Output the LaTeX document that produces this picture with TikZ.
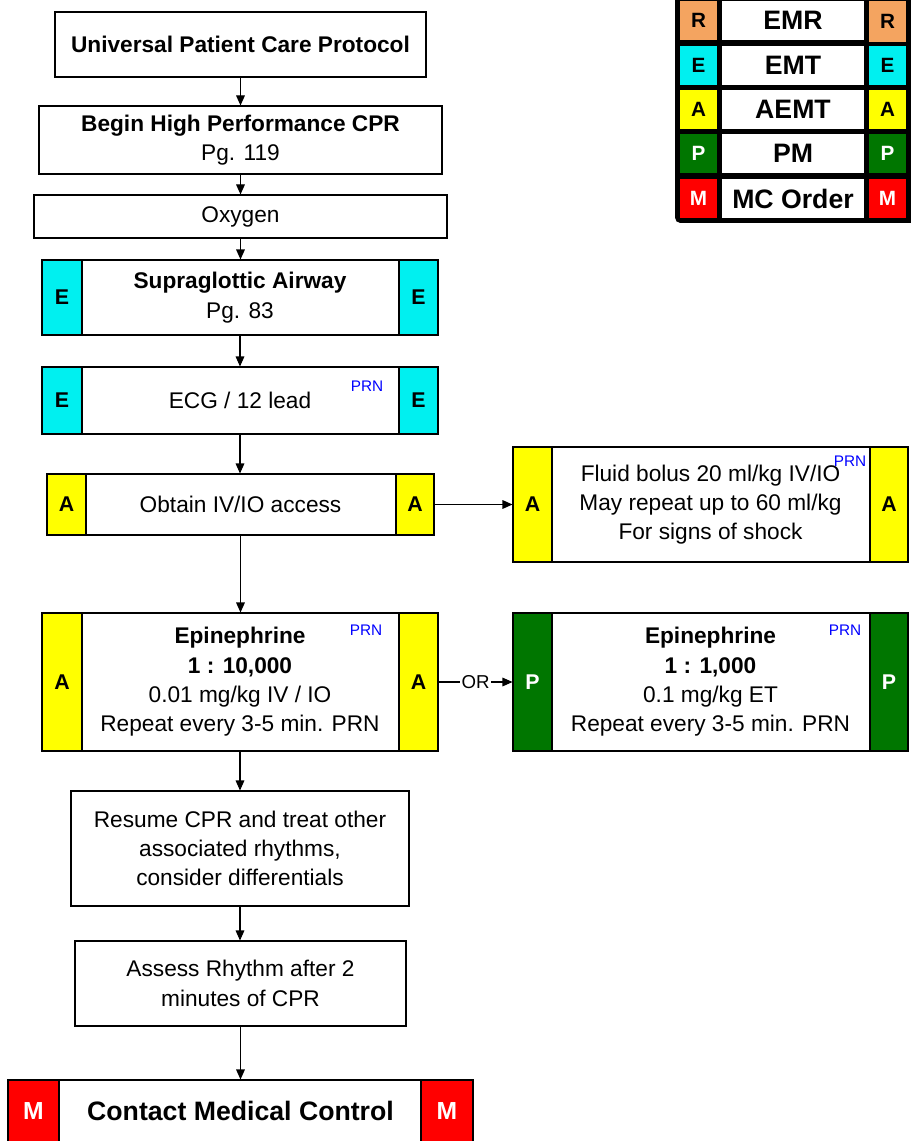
\documentclass[tikz,border=0pt]{standalone}
\usepackage{fontspec}
\setmainfont{Liberation Sans}
\usetikzlibrary{arrows.meta}
\definecolor{tabR}{RGB}{244,164,96}
\definecolor{tabE}{RGB}{0,240,240}
\definecolor{tabA}{RGB}{255,255,0}
\definecolor{tabP}{RGB}{0,118,0}
\definecolor{tabM}{RGB}{255,0,0}
\definecolor{prnblue}{RGB}{0,0,255}
\newcommand{\bx}[6]{\node[#6, minimum width={(#4-#2)*0.75pt}, minimum height={(#5-#3)*0.75pt}] (#1) at ({(#2+#4)/2},{(#3+#5)/2})}
\tikzset{
  box/.style={draw, fill=white, line width=0.8pt, align=center, inner sep=0pt, font=\fontsize{17}{22}\selectfont},
  tabbox/.style={draw, line width=0.8pt, inner sep=0pt, font=\fontsize{16}{18}\selectfont\bfseries},
  bigtab/.style={tabbox, font=\fontsize{18.5}{20}\selectfont\bfseries},
  prn/.style={inner sep=0pt, text=prnblue, font=\fontsize{11.5}{13}\selectfont},
  arr/.style={line width=0.8pt, -{Triangle[length=7.5pt,width=6.5pt]}},
  legtab/.style={inner sep=0pt, font=\fontsize{15.5}{17}\selectfont\bfseries},
  legmid/.style={fill=white, inner sep=0pt, font=\fontsize{20}{22}\selectfont\bfseries}
}
\begin{document}
\begin{tikzpicture}[x=0.75pt,y=-0.75pt]
\useasboundingbox (0,0) rectangle (910,1141);

% Legend
\fill[black, rounded corners=4] (675,-10) rectangle (918,223);
\bx{legRl}{680}{1}{717}{40}{legtab,fill=tabR}{R};
\bx{legRm}{722}{1}{864}{40}{legmid}{EMR};
\bx{legRr}{869}{1}{906}{42}{legtab,fill=tabR}{R};
\bx{legEl}{680}{46}{717}{85}{legtab,fill=tabE}{E};
\bx{legEm}{722}{46}{864}{85}{legmid}{EMT};
\bx{legEr}{869}{46}{906}{85}{legtab,fill=tabE}{E};
\bx{legAl}{680}{90}{717}{129}{legtab,fill=tabA}{A};
\bx{legAm}{722}{90}{864}{129}{legmid}{AEMT};
\bx{legAr}{869}{90}{906}{129}{legtab,fill=tabA}{A};
\bx{legPl}{680}{134}{717}{173}{legtab,fill=tabP,text=white}{P};
\bx{legPm}{722}{134}{864}{173}{legmid}{PM};
\bx{legPr}{869}{134}{906}{173}{legtab,fill=tabP,text=white}{P};
\bx{legMl}{680}{179}{717}{218}{legtab,fill=tabM,text=white}{M};
\bx{legMm}{722}{179}{864}{218}{legmid}{MC Order};
\bx{legMr}{869}{179}{906}{218}{legtab,fill=tabM,text=white}{M};

% Main column
\bx{upc}{55}{12}{426}{77}{box}{\bfseries Universal Patient Care Protocol};
\bx{cpr}{39}{106}{442}{174}{box}{\bfseries Begin High Performance CPR\\Pg. 119};
\bx{oxy}{34}{195}{447}{238}{box}{Oxygen};

\bx{sga}{42}{260}{438}{335}{box}{\bfseries Supraglottic Airway\\Pg. 83};
\bx{sgaL}{42}{260}{82}{335}{tabbox,fill=tabE}{E};
\bx{sgaR}{399}{260}{438}{335}{tabbox,fill=tabE}{E};

\bx{ecg}{42}{367}{438}{434}{box}{ECG / 12 lead};
\bx{ecgL}{42}{367}{82}{434}{tabbox,fill=tabE}{E};
\bx{ecgR}{399}{367}{438}{434}{tabbox,fill=tabE}{E};
\node[prn] (ecgP) at (367,386) {PRN};

\bx{iv}{47}{474}{434}{535}{box}{Obtain IV/IO access};
\bx{ivL}{47}{474}{86}{535}{tabbox,fill=tabA}{A};
\bx{ivR}{396}{474}{434}{535}{tabbox,fill=tabA}{A};

\bx{fl}{513}{447}{908}{562}{box}{Fluid bolus 20 ml/kg IV/IO\\May repeat up to 60 ml/kg\\For signs of shock};
\bx{flL}{513}{447}{552}{562}{tabbox,fill=tabA}{A};
\bx{flR}{870}{447}{908}{562}{tabbox,fill=tabA}{A};
\node[prn] (flP) at (850,461) {PRN};

\bx{epa}{42}{613}{438}{751}{box}{\bfseries Epinephrine\\\bfseries 1 : 10,000\\0.01 mg/kg IV / IO\\Repeat every 3-5 min. PRN};
\bx{epaL}{42}{613}{82}{751}{tabbox,fill=tabA}{A};
\bx{epaR}{399}{613}{438}{751}{tabbox,fill=tabA}{A};
\node[prn] (epaP) at (366,630) {PRN};

\bx{epp}{513}{613}{908}{751}{box}{\bfseries Epinephrine\\\bfseries 1 : 1,000\\0.1 mg/kg ET\\Repeat every 3-5 min. PRN};
\bx{eppL}{513}{613}{552}{751}{tabbox,fill=tabP,text=white}{P};
\bx{eppR}{870}{613}{908}{751}{tabbox,fill=tabP,text=white}{P};
\node[prn] (eppP) at (845,630) {PRN};

\bx{res}{71}{791}{409}{906}{box}{Resume CPR and treat other\\associated rhythms,\\consider differentials};
\bx{ass}{75}{941}{406}{1026}{box}{Assess Rhythm after 2\\minutes of CPR};

\bx{mc}{8}{1080}{473}{1142}{box,font=\fontsize{20}{22}\selectfont\bfseries}{Contact Medical Control};
\bx{mcL}{8}{1080}{59}{1142}{bigtab,fill=tabM,text=white}{M};
\bx{mcR}{421}{1080}{473}{1142}{bigtab,fill=tabM,text=white}{M};

% Connectors
\draw[arr] (upc.south) -- (upc.south |- cpr.north);
\draw[arr] (cpr.south) -- (cpr.south |- oxy.north);
\draw[arr] (oxy.south) -- (oxy.south |- sga.north);
\draw[arr] (sga.south) -- (sga.south |- ecg.north);
\draw[arr] (ecg.south) -- (ecg.south |- iv.north);
\draw[arr] (iv.south) -- (iv.south |- epa.north);
\draw[arr] (epa.south) -- (epa.south |- res.north);
\draw[arr] (res.south) -- (res.south |- ass.north);
\draw[arr] (ass.south) -- (ass.south |- mc.north);
\draw[arr] (ivR.east) -- (flL.west);
\draw[arr] (epaR.east) -- node[fill=white, inner sep=1pt, font=\fontsize{14}{16}\selectfont] (orlab) {OR} (eppL.west);
\end{tikzpicture}
\end{document}
